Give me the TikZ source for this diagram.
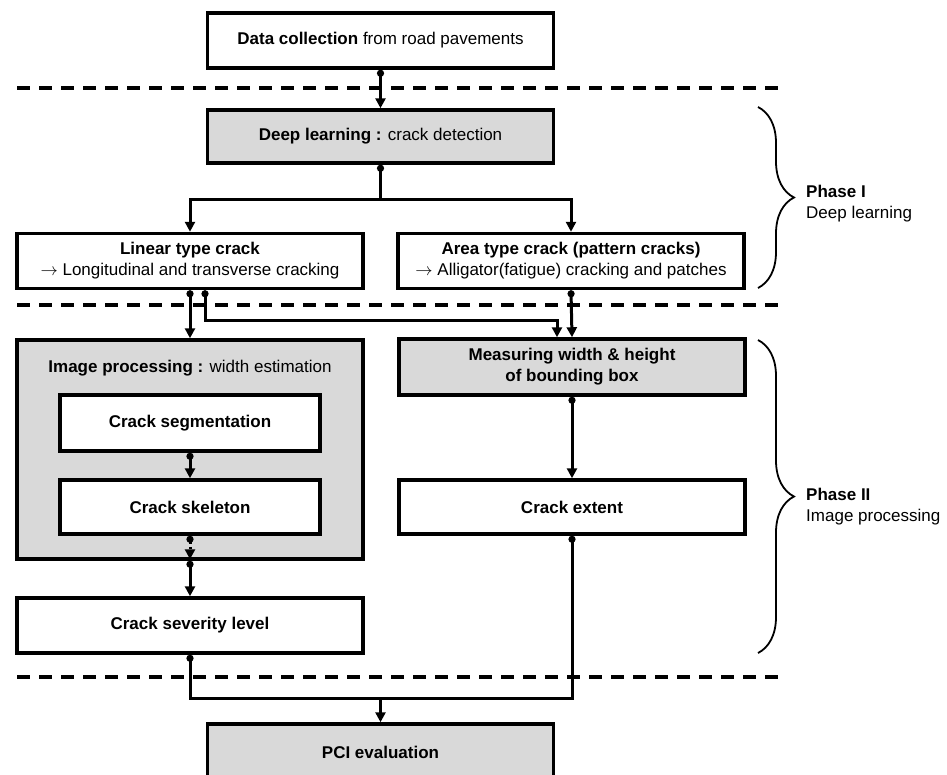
\documentclass[tikz,border=0pt]{standalone}
\usepackage{fontspec}
\setmainfont{Liberation Sans}
\usetikzlibrary{positioning, arrows.meta, decorations.pathreplacing}
\definecolor{boxgrey}{RGB}{217,217,217}

\begin{document}
\begin{tikzpicture}[x=1pt, y=-1pt,
    font=\fontsize{17}{21}\selectfont,
    stepbox/.style={draw=black, line width=3.5pt, fill=white, align=center,
        minimum width=346pt, minimum height=55pt, inner sep=0pt},
    greybox/.style={stepbox, fill=boxgrey},
    innerbox/.style={stepbox, minimum width=260pt},
    link/.style={line width=3pt, {Circle[length=7pt]}-{Triangle[length=10pt, width=10pt]}},
    plainlink/.style={line width=3pt, -{Triangle[length=10pt, width=10pt]}},
    dotlink/.style={link, dash pattern=on 2.5pt off 3pt},
    seamline/.style={line width=3pt, {Circle[length=7pt]}-{Circle[length=7pt]}},
    sepline/.style={line width=3.2pt, dash pattern=on 13pt off 9pt},
    bracket/.style={line width=1.8pt, decorate, decoration={brace, amplitude=36pt}},
    phase/.style={anchor=west, align=left, inner sep=0pt}]

    \useasboundingbox (0,0) rectangle (947,774);
    \fill[white] (0,0) rectangle (947,774);
    \clip (0,0) rectangle (947,774);

    % phase separators
    \draw[sepline] (17,88) -- (780,88);
    \draw[sepline] (17,305) -- (780,305);
    \draw[sepline] (17,677) -- (780,677);

    % phase I
    \node[stepbox] (data) at (380.5,40.5) {\textbf{Data collection} from road pavements};
    \node[greybox, minimum height=53pt] (deep) at (380.5,136.5) {\textbf{Deep learning :} crack detection};
    \node[stepbox] (linear) at (190,261) {\textbf{Linear type crack}\\$\rightarrow$ Longitudinal and transverse cracking};
    \node[stepbox] (area) at (571,261) {\textbf{Area type crack (pattern cracks)}\\$\rightarrow$ Alligator(fatigue) cracking and patches};

    % phase II
    \node[greybox, minimum height=219pt] (imgproc) at (190,449.5) {};
    \node (imgtitle) at (190,368) {\textbf{Image processing :} width estimation};
    \node[innerbox, minimum height=56pt] (seg) at (190,423) {\textbf{Crack segmentation}};
    \node[innerbox, minimum height=54pt] (skel) at (190,507) {\textbf{Crack skeleton}};
    \node[stepbox] (severity) at (190,625.5) {\textbf{Crack severity level}};
    \node[greybox, minimum height=56pt] (meas) at (572,367) {\textbf{Measuring width \& height}\\\textbf{of bounding box}};
    \node[stepbox, minimum height=54pt] (extent) at (572,507) {\textbf{Crack extent}};

    % result
    \node[greybox, minimum height=56pt] (pci) at (380.5,752) {\textbf{PCI evaluation}};

    \coordinate (split) at (380.5,199);
    \coordinate (join) at (380.5,698);

    \draw[link] (data) -- (deep);
    \draw[line width=3pt, {Circle[length=7pt]}-] (deep.south) -- (split);
    \draw[plainlink] (split) -| (linear.north);
    \draw[plainlink] (split) -| (area.north);

    \draw[link] (linear.south) -- (imgproc.north);
    \draw[link] ([xshift=15pt]linear.south) -- ++(0,30) -| ([xshift=-15pt]meas.north);
    \draw[link] (area.south) -- (meas.north);

    \draw[link] (seg) -- (skel);
    \draw[dotlink] (skel.south) -- ([yshift=1.5pt]imgproc.south);
    \draw[link] (imgproc.south) -- (severity.north);
    \draw[link] (meas) -- (extent);

    \draw[seamline] (severity.south) |- (join) -| (extent.south);
    \draw[plainlink] (join) -- (pci.north);

    % phase braces
    \draw[bracket] (758,107) -- (758,288);
    \node[phase] (phase1) at (806,204) {\textbf{Phase I}\\Deep learning};
    \draw[bracket] (758,340) -- (758,653);
    \node[phase] (phase2) at (806,507) {\textbf{Phase II}\\Image processing};

\end{tikzpicture}
\end{document}
